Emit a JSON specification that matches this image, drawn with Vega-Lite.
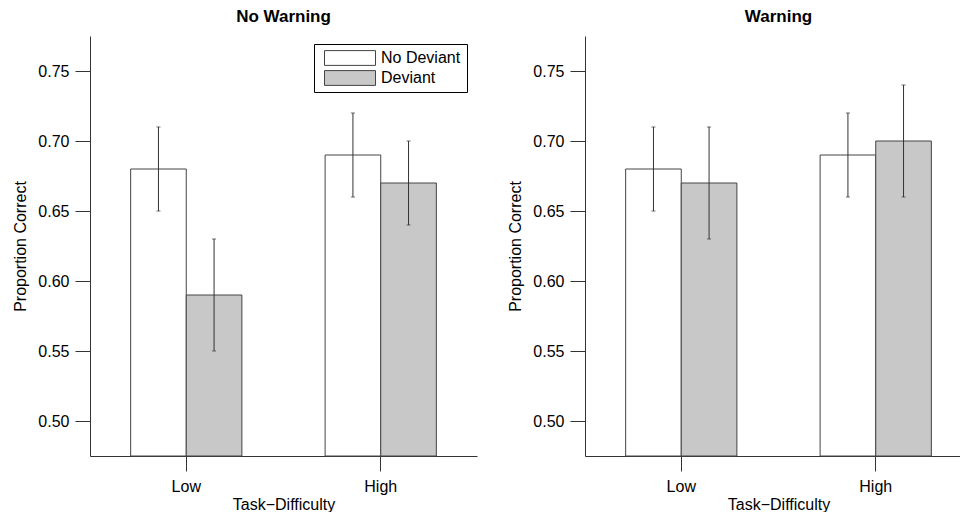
{
  "$schema": "https://vega.github.io/schema/vega-lite/v6.json",
  "autosize": {"type": "pad"},
  "padding": {"left": 12, "top": 8, "right": -11, "bottom": 0},
  "bounds": "flush",
  "spacing": 108,
  "background": "#ffffff",
  "config": {
    "view": {"stroke": null},
    "font": "Liberation Sans",
    "axis": {
      "domainColor": "#333333", "tickColor": "#333333", "labelColor": "#000000", "titleColor": "#000000",
      "labelFont": "Liberation Sans", "titleFont": "Liberation Sans", "labelFontSize": 16, "titleFontSize": 16,
      "titleFontWeight": "normal", "grid": false, "tickSize": 15, "domainWidth": 1, "tickWidth": 1
    },
    "title": {"font": "Liberation Sans", "fontSize": 17, "fontWeight": "bold", "color": "#000000", "baseline": "alphabetic", "offset": 10}
  },
  "datasets": {
    "d": [
      {"warning": "No Warning", "difficulty": "Low", "condition": "No Deviant", "mean": 0.68, "lo": 0.65, "hi": 0.71},
      {"warning": "No Warning", "difficulty": "Low", "condition": "Deviant", "mean": 0.59, "lo": 0.55, "hi": 0.63},
      {"warning": "No Warning", "difficulty": "High", "condition": "No Deviant", "mean": 0.69, "lo": 0.66, "hi": 0.72},
      {"warning": "No Warning", "difficulty": "High", "condition": "Deviant", "mean": 0.67, "lo": 0.64, "hi": 0.70},
      {"warning": "Warning", "difficulty": "Low", "condition": "No Deviant", "mean": 0.68, "lo": 0.65, "hi": 0.71},
      {"warning": "Warning", "difficulty": "Low", "condition": "Deviant", "mean": 0.67, "lo": 0.63, "hi": 0.71},
      {"warning": "Warning", "difficulty": "High", "condition": "No Deviant", "mean": 0.69, "lo": 0.66, "hi": 0.72},
      {"warning": "Warning", "difficulty": "High", "condition": "Deviant", "mean": 0.70, "lo": 0.66, "hi": 0.74}
    ]
  },
  "resolve": {"legend": {"fill": "independent"}},
  "hconcat": [
    {
      "title": "No Warning",
      "width": 387,
      "height": 420,
      "data": {"name": "d"},
      "transform": [{"filter": "datum.warning === 'No Warning'"}],
      "encoding": {
        "x": {"field": "difficulty", "type": "nominal", "sort": ["Low", "High"],
              "scale": {"paddingInner": 0.428, "paddingOuter": 0.209},
              "axis": {"title": "Task−Difficulty", "labelAngle": 0, "labelPadding": 7, "titlePadding": 2}},
        "xOffset": {"field": "condition", "type": "nominal", "sort": ["No Deviant", "Deviant"], "scale": {"paddingInner": 0, "paddingOuter": 0}}
      },
      "layer": [
        {
          "mark": {"type": "bar", "stroke": "#444444", "strokeWidth": 1},
          "encoding": {
            "y": {"field": "mean", "type": "quantitative",
                  "scale": {"domain": [0.475, 0.775], "zero": false, "nice": false},
                  "axis": {"title": "Proportion Correct", "values": [0.5, 0.55, 0.6, 0.65, 0.7, 0.75], "format": ".2f", "labelPadding": 6, "titlePadding": 9}},
            "y2": {"datum": 0.475},
            "fill": {"field": "condition", "type": "nominal",
                     "scale": {"domain": ["No Deviant", "Deviant"], "range": ["#ffffff", "#c8c8c8"]},
                     "legend": {"title": null, "orient": "none", "legendX": 224, "legendY": 8,
                                "symbolType": "M-1,-0.29H1V0.29H-1Z", "symbolSize": 2601,
                                "symbolStrokeColor": "#444444", "symbolStrokeWidth": 1,
                                "clipHeight": 16, "symbolOffset": 4,
                                "labelFont": "Liberation Sans", "labelFontSize": 16, "labelColor": "#000000",
                                "strokeColor": "#000000", "fillColor": "#ffffff", "padding": 6, "rowPadding": 4, "labelOffset": 5}}
          }
        },
        {
          "mark": {"type": "rule", "color": "#333333", "strokeWidth": 1},
          "encoding": {
            "y": {"field": "lo", "type": "quantitative"},
            "y2": {"field": "hi"}
          }
        },
        {
          "mark": {"type": "tick", "color": "#333333", "thickness": 1, "size": 4},
          "encoding": {"y": {"field": "lo", "type": "quantitative"}}
        },
        {
          "mark": {"type": "tick", "color": "#333333", "thickness": 1, "size": 4},
          "encoding": {"y": {"field": "hi", "type": "quantitative"}}
        }
      ]
    },
    {
      "title": "Warning",
      "width": 387,
      "height": 420,
      "data": {"name": "d"},
      "transform": [{"filter": "datum.warning === 'Warning'"}],
      "encoding": {
        "x": {"field": "difficulty", "type": "nominal", "sort": ["Low", "High"],
              "scale": {"paddingInner": 0.428, "paddingOuter": 0.209},
              "axis": {"title": "Task−Difficulty", "labelAngle": 0, "labelPadding": 7, "titlePadding": 2}},
        "xOffset": {"field": "condition", "type": "nominal", "sort": ["No Deviant", "Deviant"], "scale": {"paddingInner": 0, "paddingOuter": 0}}
      },
      "layer": [
        {
          "mark": {"type": "bar", "stroke": "#444444", "strokeWidth": 1},
          "encoding": {
            "y": {"field": "mean", "type": "quantitative",
                  "scale": {"domain": [0.475, 0.775], "zero": false, "nice": false},
                  "axis": {"title": "Proportion Correct", "values": [0.5, 0.55, 0.6, 0.65, 0.7, 0.75], "format": ".2f", "labelPadding": 6, "titlePadding": 9}},
            "y2": {"datum": 0.475},
            "fill": {"field": "condition", "type": "nominal",
                     "scale": {"domain": ["No Deviant", "Deviant"], "range": ["#ffffff", "#c8c8c8"]},
                     "legend": null}
          }
        },
        {
          "mark": {"type": "rule", "color": "#333333", "strokeWidth": 1},
          "encoding": {
            "y": {"field": "lo", "type": "quantitative"},
            "y2": {"field": "hi"}
          }
        },
        {
          "mark": {"type": "tick", "color": "#333333", "thickness": 1, "size": 4},
          "encoding": {"y": {"field": "lo", "type": "quantitative"}}
        },
        {
          "mark": {"type": "tick", "color": "#333333", "thickness": 1, "size": 4},
          "encoding": {"y": {"field": "hi", "type": "quantitative"}}
        }
      ]
    }
  ]
}
